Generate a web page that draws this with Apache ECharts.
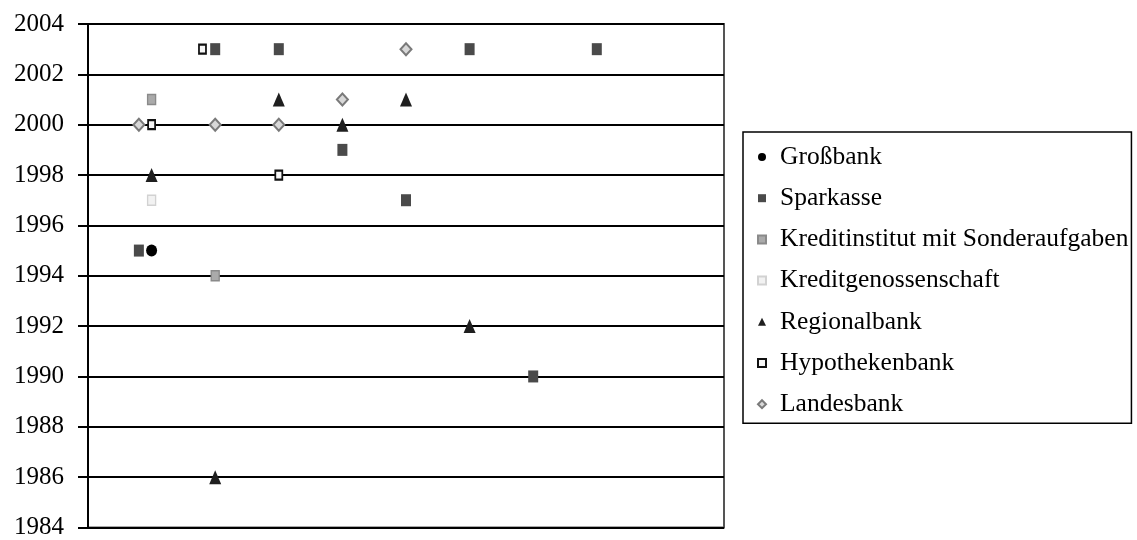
<!DOCTYPE html>
<html>
<head>
<meta charset="utf-8">
<script src="https://cdn.jsdelivr.net/npm/echarts@6/dist/echarts.min.js"></script>
<style>
html,body{margin:0;padding:0;background:#fff;}
#chart{width:1137px;height:540px;}
</style>
</head>
<body>
<div id="chart"></div>
<script>
// Data: [x position, year]
const seriesNames = ['Großbank','Sparkasse','Kreditinstitut mit Sonderaufgaben','Kreditgenossenschaft','Regionalbank','Hypothekenbank','Landesbank'];
const grossbank = [[1, 1995]];
const sparkasse = [[0.8, 1995], [2, 2003], [3, 2003], [4, 1999], [5, 1997], [6, 2003], [7, 1990], [8, 2003]];
const kreditinstitut = [[1, 2001], [2, 1994]];
const kreditgenossenschaft = [[1, 1997]];
const regionalbank = [[1, 1998], [2, 1986], [3, 2001], [4, 2000], [5, 2001], [6, 1992]];
const hypothekenbank = [[1, 2000], [1.8, 2003], [3, 1998]];
const landesbank = [[0.8, 2000], [2, 2000], [3, 2000], [4, 2001], [5, 2003]];
const yMin = 1984, yMax = 2004, yStep = 2;
const xMin = 0, xMax = 10;

const font = "'Liberation Serif','Times New Roman',serif";
const chart = echarts.init(document.getElementById('chart'), null, {renderer:'canvas'});
function sc(name, data, symbol, size, style){
  style.opacity = 1;
  return {name:name, type:'scatter', data:data, symbol:symbol, symbolSize:size, itemStyle:style, z:3};
}
chart.setOption({
  animation:false,
  backgroundColor:'#fff',
  grid:{left:88, right:413, top:24, bottom:12.5, show:true, borderColor:'#555', borderWidth:2, backgroundColor:'transparent'},
  xAxis:{type:'value', min:xMin, max:xMax, show:true,
    axisLine:{show:false}, axisTick:{show:false}, axisLabel:{show:false}, splitLine:{show:false}},
  yAxis:{type:'value', min:yMin, max:yMax, interval:yStep,
    axisLine:{show:true, lineStyle:{color:'#000', width:2}},
    axisTick:{show:true, inside:false, length:10, lineStyle:{color:'#000', width:2}},
    axisLabel:{color:'#000', fontFamily:font, fontSize:25, margin:24, formatter:function(v){return String(v);}},
    splitLine:{show:true, lineStyle:{color:'#000', width:2}}},
  legend:{orient:'vertical', left:743, top:132, data:seriesNames,
    itemWidth:8, itemHeight:8, itemGap:11.2,
    padding:[10,3,4,14], borderColor:'#000', borderWidth:1.5,
    textStyle:{color:'#000', fontFamily:font, fontSize:25.5, lineHeight:30, padding:[0,0,0,9]}},
  series:[
    sc('Großbank', grossbank, 'circle', [11,12], {color:'#000'}),
    sc('Sparkasse', sparkasse, 'rect', [10,12], {color:'#4a4a4a'}),
    sc('Kreditinstitut mit Sonderaufgaben', kreditinstitut, 'rect', [8,10], {color:'#aaaaaa', borderColor:'#8a8a8a', borderWidth:1.5}),
    sc('Kreditgenossenschaft', kreditgenossenschaft, 'rect', [8,10], {color:'#f2f2f2', borderColor:'#d2d2d2', borderWidth:1.5}),
    sc('Regionalbank', regionalbank, 'triangle', [12,14], {color:'#1f1f1f'}),
    sc('Hypothekenbank', hypothekenbank, 'rect', [7,9], {color:'#f7f7f7', borderColor:'#111', borderWidth:2}),
    sc('Landesbank', landesbank, 'diamond', [11,12], {color:'#d8d8d8', borderColor:'#7a7a7a', borderWidth:2})
  ]
});
</script>
</body>
</html>
